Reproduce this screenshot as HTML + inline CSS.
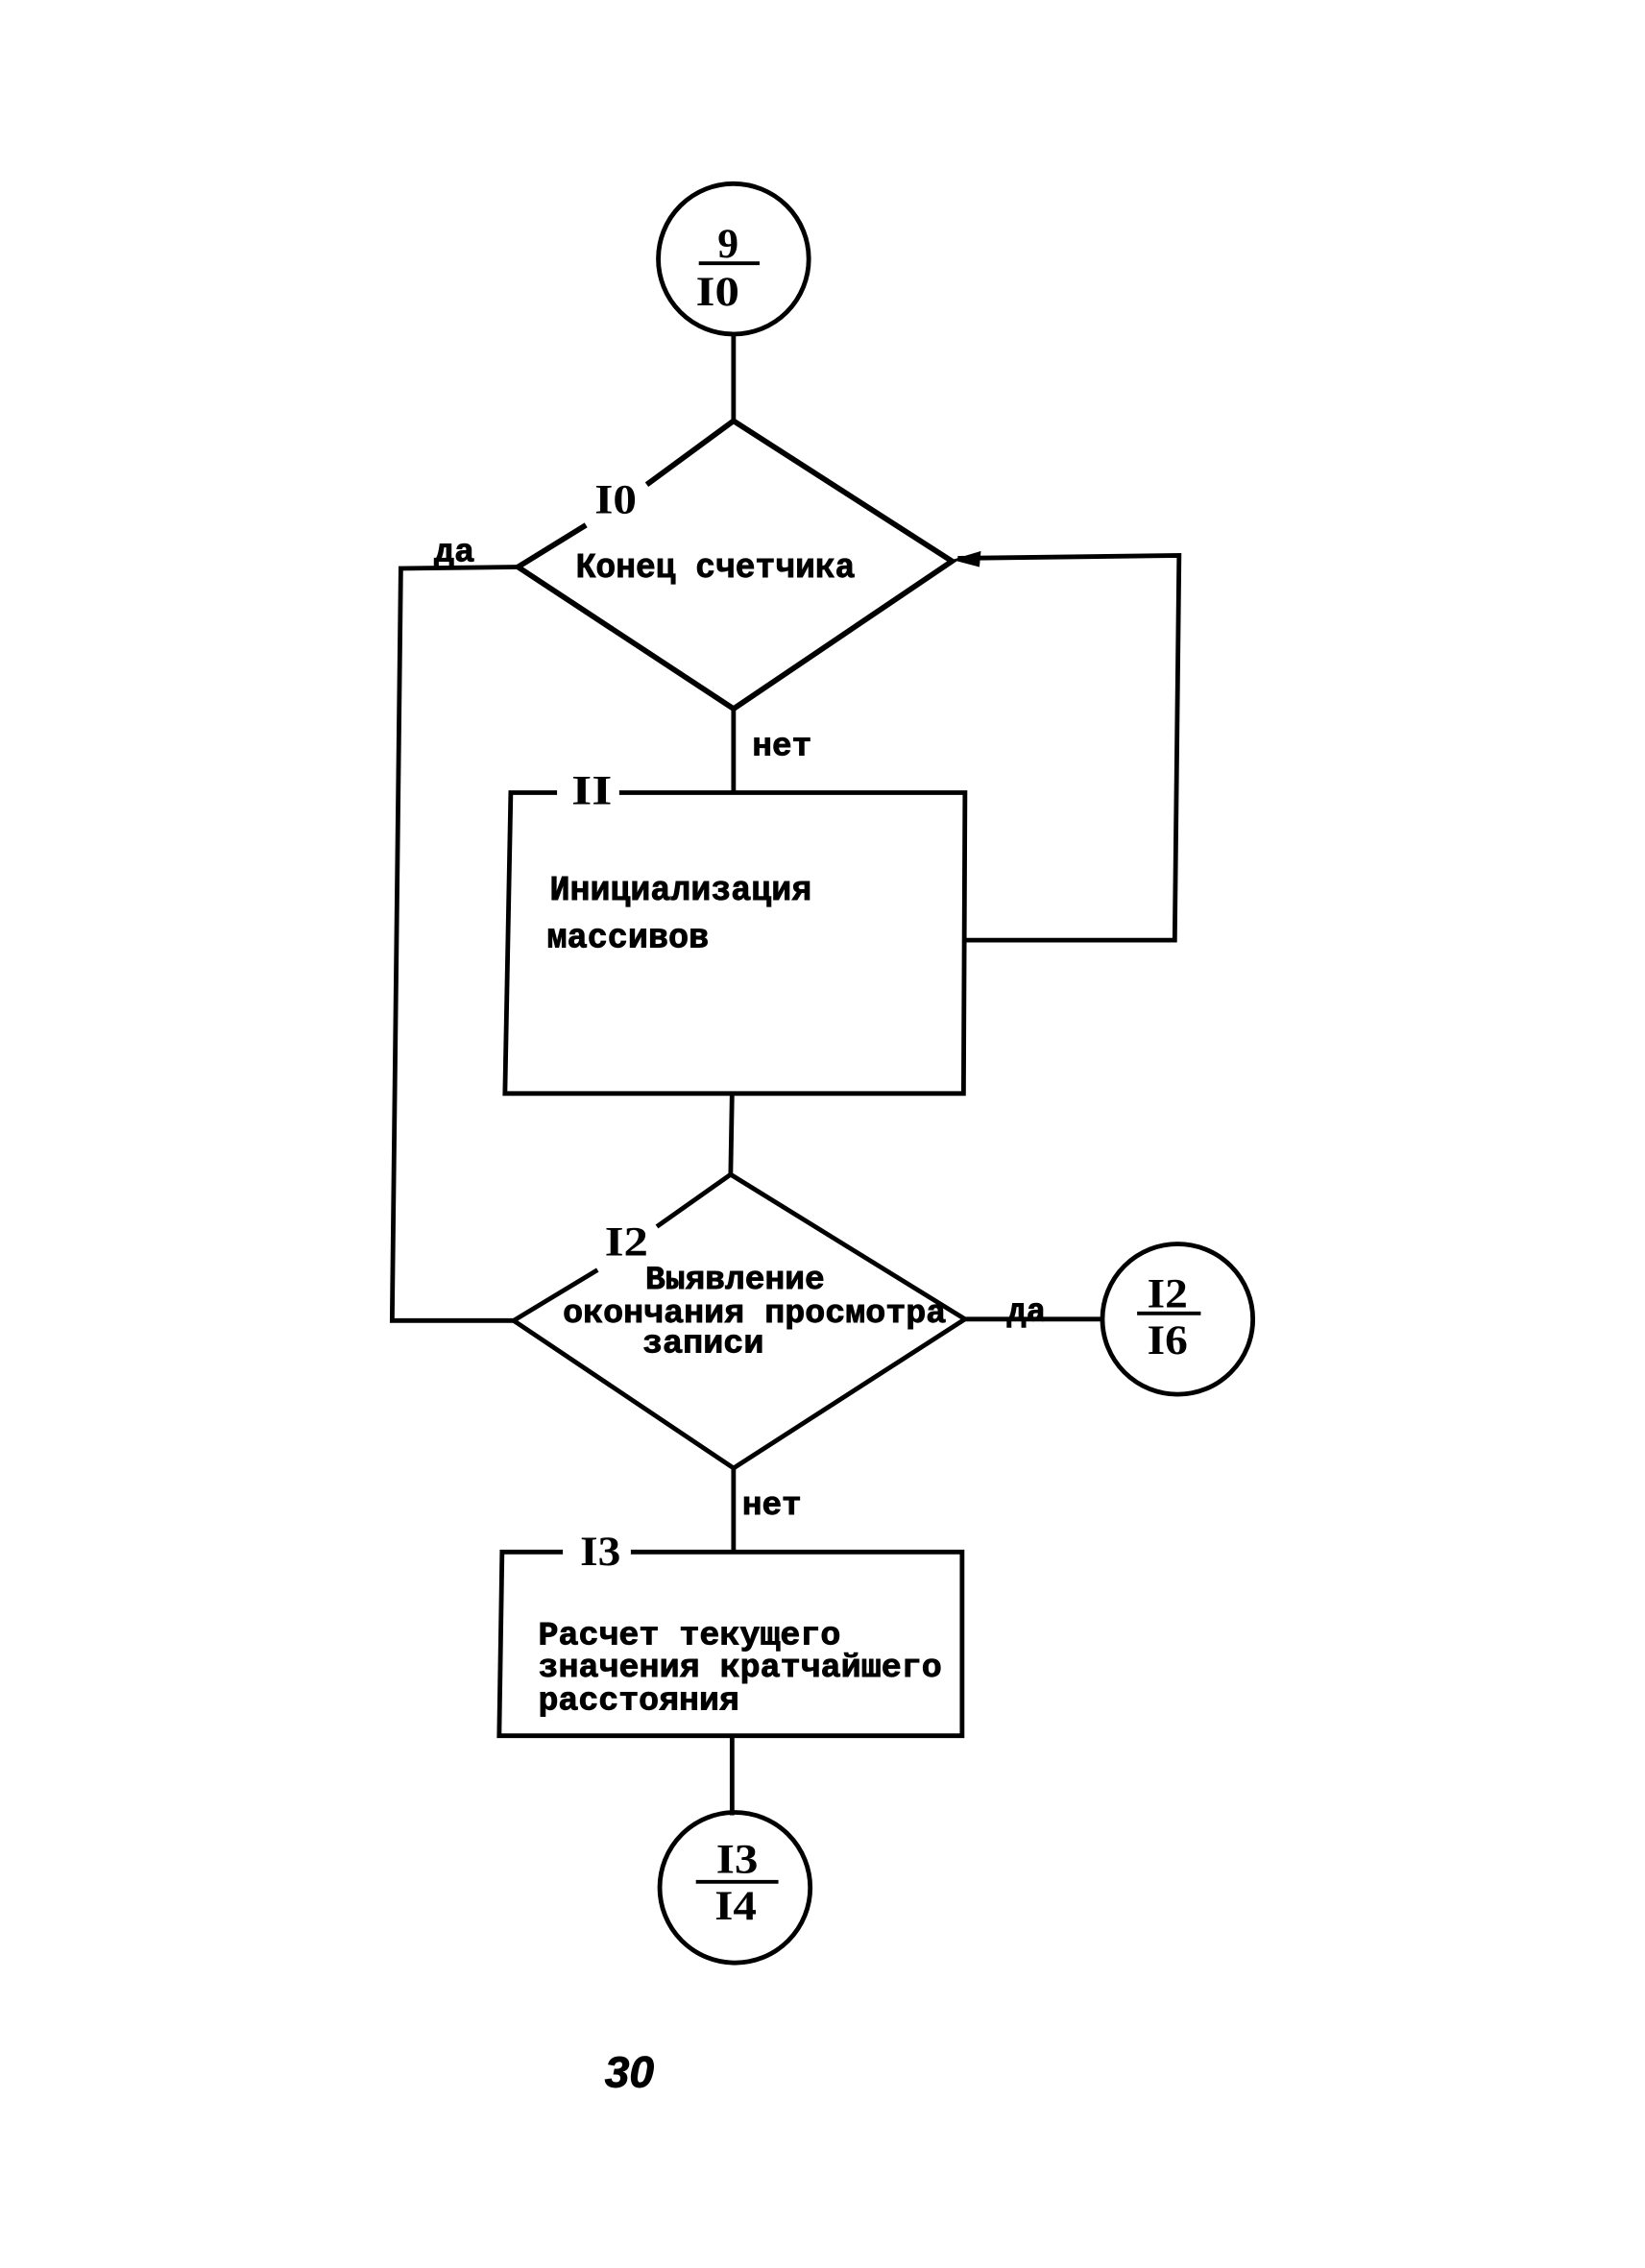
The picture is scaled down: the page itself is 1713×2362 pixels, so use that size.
<!DOCTYPE html>
<html lang="ru"><head><meta charset="utf-8"><style>
html,body{margin:0;padding:0;background:#fff}
svg{display:block}
text{font-family:"Liberation Mono","DejaVu Sans Mono",monospace;font-weight:bold;fill:#000;stroke:#000;stroke-width:.6}
.n{font-family:"Liberation Serif",serif;font-size:29px;stroke:none}
</style></head><body>
<svg width="1713" height="2362" viewBox="0 0 1137 1568" xmlns="http://www.w3.org/2000/svg">
<g fill="none" stroke="#000" stroke-width="3.2" stroke-linejoin="miter">
<circle cx="507" cy="179" r="52"/>
<circle cx="814" cy="912" r="52"/>
<circle cx="508" cy="1305" r="52"/>
<path d="M507 232V291"/>
<path d="M447 335L507 291L658 388L507 490L358 392L405 363" stroke-width="3.8"/>
<path d="M358 392L277 393L271 913H355"/>
<path d="M507 490V548"/>
<path d="M385 548H353L349 756H666L667 548H428"/>
<path d="M667 650H812L815 384L662 386"/>
<path d="M506 755L505 812"/>
<path d="M454 848L505 812L667 912L507 1015L355 913L413 878"/>
<path d="M667 912H762"/>
<path d="M507 1015V1073"/>
<path d="M389 1073H347L345 1200H665V1073H436"/>
<path d="M506 1200V1255"/>
<path d="M483 182H525M786 908H830M481 1301H538" stroke-width="2.6"/>
</g>
<path d="M658 387L678 381L677 392Z" fill="#000"/>
<text class="n" x="496" y="178">9</text>
<text class="n" x="481" y="211" textLength="30" lengthAdjust="spacingAndGlyphs">I0</text>
<text class="n" x="411" y="355" textLength="29" lengthAdjust="spacingAndGlyphs">I0</text>
<text x="300" y="388" font-size="23" textLength="28" lengthAdjust="spacingAndGlyphs">да</text>
<text x="398" y="399" font-size="24" textLength="193" lengthAdjust="spacingAndGlyphs">Конец счетчика</text>
<text x="520" y="522" font-size="23" textLength="41" lengthAdjust="spacingAndGlyphs">нет</text>
<text class="n" x="395" y="556" textLength="28" lengthAdjust="spacingAndGlyphs">II</text>
<text x="380" y="622" font-size="24" textLength="181" lengthAdjust="spacingAndGlyphs">Инициализация</text>
<text x="378" y="655" font-size="24" textLength="112" lengthAdjust="spacingAndGlyphs">массивов</text>
<text class="n" x="418" y="868" textLength="30" lengthAdjust="spacingAndGlyphs">I2</text>
<text x="446" y="891" font-size="23" textLength="124" lengthAdjust="spacingAndGlyphs">Выявление</text>
<text x="389" y="914" font-size="23" textLength="265" lengthAdjust="spacingAndGlyphs">окончания просмотра</text>
<text x="444" y="935" font-size="23" textLength="84" lengthAdjust="spacingAndGlyphs">записи</text>
<text x="696" y="913" font-size="23" textLength="27" lengthAdjust="spacingAndGlyphs">да</text>
<text class="n" x="793" y="904" textLength="28" lengthAdjust="spacingAndGlyphs">I2</text>
<text class="n" x="793" y="936" textLength="28" lengthAdjust="spacingAndGlyphs">I6</text>
<text x="513" y="1047" font-size="23" textLength="41" lengthAdjust="spacingAndGlyphs">нет</text>
<text class="n" x="401" y="1082" textLength="28" lengthAdjust="spacingAndGlyphs">I3</text>
<text x="372" y="1137" font-size="23" textLength="209" lengthAdjust="spacingAndGlyphs">Расчет текущего</text>
<text x="372" y="1159" font-size="23" textLength="279" lengthAdjust="spacingAndGlyphs">значения кратчайшего</text>
<text x="372" y="1182" font-size="23" textLength="139" lengthAdjust="spacingAndGlyphs">расстояния</text>
<text class="n" x="495" y="1295" textLength="29" lengthAdjust="spacingAndGlyphs">I3</text>
<text class="n" x="494" y="1327" textLength="29" lengthAdjust="spacingAndGlyphs">I4</text>
<text x="418" y="1443" font-size="30" font-style="italic" textLength="34" lengthAdjust="spacingAndGlyphs" style="font-family:'Liberation Sans',sans-serif">30</text>
</svg>
</body></html>
